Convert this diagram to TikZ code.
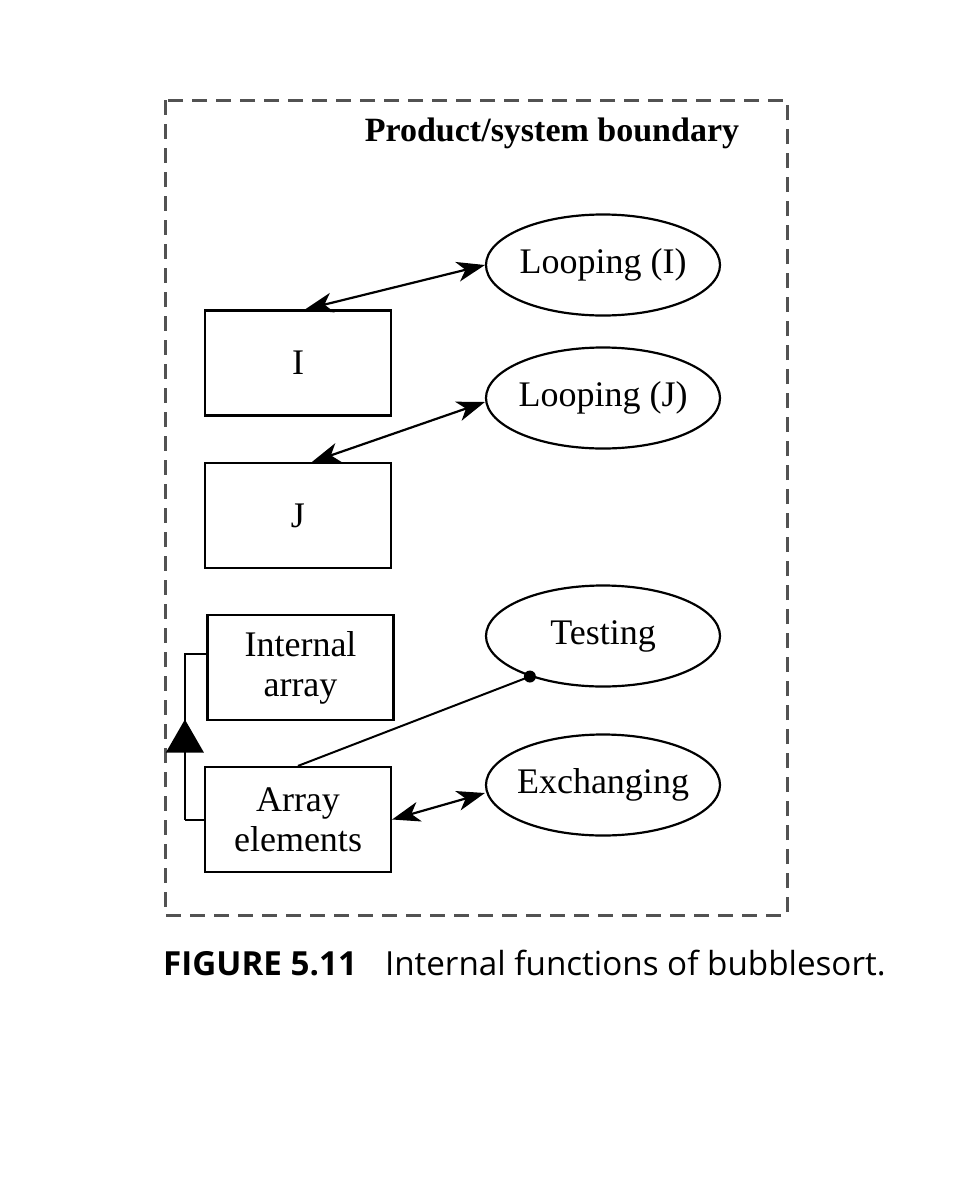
\documentclass[tikz,border=0pt]{standalone}
\usepackage{fontspec}
\setmainfont{Liberation Serif}
\newfontfamily\capfont{Open Sans}
\usetikzlibrary{arrows.meta,shapes.geometric,calc}
\newcommand{\zw}[1]{\makebox[0pt]{#1}}
\begin{document}
\begin{tikzpicture}[x=1pt,y=-1pt,
  box/.style={draw,line width=2.2pt,minimum width=186pt,minimum height=105pt,inner sep=0pt,align=center,font=\fontsize{36}{40}\selectfont},
  oval/.style={draw,ellipse,line width=2.2pt,minimum width=234pt,minimum height=101pt,inner sep=0pt,font=\fontsize{36}{40}\selectfont},
  link/.style={line width=2.2pt,{Stealth[length=28pt,width=20pt,inset=8pt]}-{Stealth[length=28pt,width=20pt,inset=8pt]}},
  bound/.style={draw=black!68,line width=3pt,dash pattern=on 15pt off 9pt}
]
\useasboundingbox (0,0) rectangle (975,1200);
\draw[bound] (165,100) rectangle (787,915);
\node[font=\fontsize{34}{40}\selectfont\bfseries] (title) at (552,133) {Product/system boundary};

\node[oval] (lpI) at (603,265) {\zw{Looping (I)}};
\node[oval] (lpJ) at (603,398) {\zw{Looping (J)}};
\node[oval] (test) at (603,636) {\zw{Testing}};
\node[oval] (exch) at (603,785) {\zw{Exchanging}};

\node[box] (bI) at (298,363) {I};
\node[box] (bJ) at (298,515.5) {J};
\node[box] (int) at (300.5,667.5) {Internal\\array};
\node[box] (arr) at (298,819.5) {Array\\elements};

\draw[link] (lpI.west) -- ([xshift=7pt]bI.north);
\draw[link] ([yshift=-4pt]lpJ.west) -- ([xshift=14pt]bJ.north);
\draw[link] ([yshift=-8pt]exch.west) -- (arr.east);
\draw[line width=2pt] (arr.north) -- (test.209);
\fill (test.209) circle (6pt);

\draw[line width=2pt] (arr.west) -- ++(-19,0) coordinate (c1);
\draw[line width=2pt] (c1) |- ([yshift=14pt]int.west);
\fill ([shift={(-19,-67)}]c1) -- ([shift={(19,-67)}]c1) -- ([shift={(0,-100)}]c1) -- cycle;

\node[anchor=base west,inner sep=0pt,font=\capfont\fontsize{33.2}{38}\selectfont] (cap) at (163,975) {\textbf{FIGURE 5.11}\hspace{28pt}Internal functions of bubblesort.};
\end{tikzpicture}
\end{document}
